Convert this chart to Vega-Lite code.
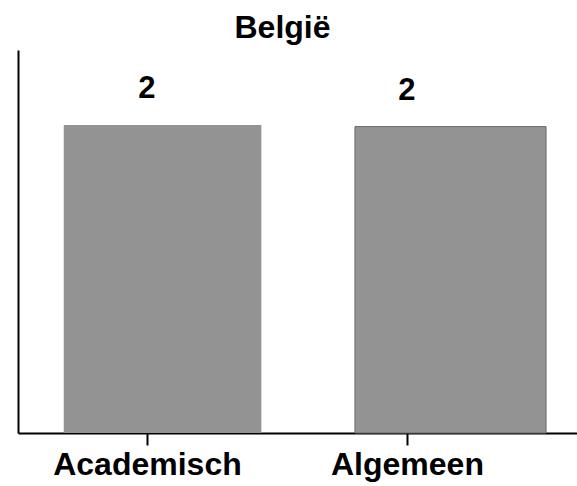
{
  "$schema": "https://vega.github.io/schema/vega-lite/v6.json",
  "width": 559,
  "height": 383,
  "autosize": {"type": "none"},
  "padding": {"left": 18, "top": 50, "right": 0, "bottom": 53},
  "background": "white",
  "config": {
    "view": {"stroke": null},
    "font": "Liberation Sans"
  },
  "title": {
    "text": "België",
    "fontSize": 32,
    "fontWeight": "bold",
    "font": "Liberation Sans",
    "color": "black",
    "baseline": "alphabetic",
    "offset": 9,
    "dx": -15,
    "dy": 29
  },
  "data": {
    "values": [
      {"categorie": "Academisch", "idx": 0, "waarde": 2.01, "van": -0.32, "tot": 0.44},
      {"categorie": "Algemeen", "idx": 1, "waarde": 2.0, "van": 0.80, "tot": 1.535}
    ]
  },
  "layer": [
    {
      "mark": {"type": "bar", "color": "#939393", "strokeWidth": 1},
      "encoding": {
        "x": {
          "field": "van",
          "type": "quantitative",
          "scale": {"domain": [-0.496, 1.654], "nice": false, "zero": false},
          "axis": {
            "values": [0, 1],
            "labelExpr": "datum.value == 0 ? 'Academisch' : 'Algemeen'",
            "title": null,
            "grid": false,
            "domainColor": "black",
            "domainWidth": 2,
            "tickColor": "black",
            "tickWidth": 2,
            "tickSize": 12,
            "labelFontSize": 32,
            "labelFontWeight": "bold",
            "labelColor": "black",
            "labelFont": "Liberation Sans",
            "labelPadding": 4,
            "labelLimit": 0,
            "labelFlush": false,
            "labelOverlap": false
          }
        },
        "x2": {"field": "tot"},
        "y": {
          "field": "waarde",
          "type": "quantitative",
          "scale": {"domain": [0, 2.5], "nice": false},
          "axis": {
            "title": null,
            "grid": false,
            "ticks": false,
            "labels": false,
            "domainColor": "black",
            "domainWidth": 2
          }
        },
        "y2": {"datum": 0},
        "stroke": {
          "condition": {"test": "datum.categorie == 'Algemeen'", "value": "#6a6a6a"},
          "value": null
        }
      }
    },
    {
      "mark": {
        "type": "text",
        "fontSize": 31,
        "fontWeight": "bold",
        "font": "Liberation Sans",
        "color": "black",
        "baseline": "alphabetic",
        "dy": -27
      },
      "encoding": {
        "x": {"field": "idx", "type": "quantitative"},
        "y": {"field": "waarde", "type": "quantitative"},
        "text": {"field": "waarde", "type": "quantitative", "format": ".0f"}
      }
    }
  ]
}
